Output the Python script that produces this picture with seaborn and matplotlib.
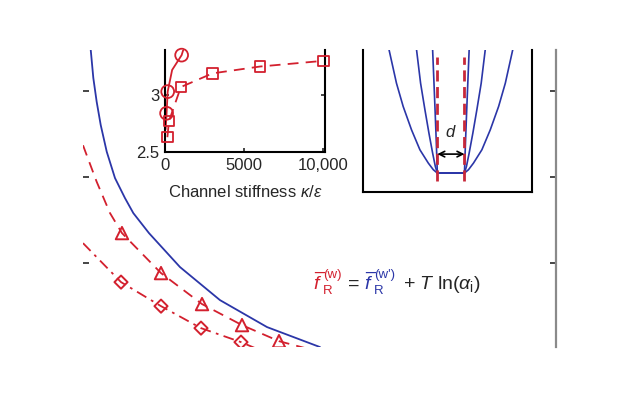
import pandas as pd
import matplotlib.pyplot as plt
import seaborn as sns

# main panel curves (x in arbitrary units, y in free-energy units)
blue_x = [0.090, 0.120, 0.159, 0.206, 0.276, 0.372, 0.488, 0.585, 0.767, 1.128,
          1.593, 2.140, 2.756]
blue_y = [3.48, 3.154, 2.877, 2.606, 2.295, 1.988, 1.755, 1.580, 1.347, 0.951,
          0.566, 0.252, 0.019]

tri_line_x = [0.0, 0.159, 0.314, 0.453, 0.907, 1.384, 1.849, 2.279, 2.674]
tri_line_y = [2.37, 1.945, 1.580, 1.347, 0.881, 0.520, 0.275, 0.088, -0.017]
tri_x = [0.453, 0.907, 1.384, 1.849, 2.279]
tri_y = [1.347, 0.881, 0.520, 0.275, 0.088]

dia_line_x = [0.0, 0.442, 0.907, 1.372, 1.837, 2.058]
dia_line_y = [1.23, 0.776, 0.496, 0.240, 0.077, -0.017]
dia_x = [0.442, 0.907, 1.372, 1.837]
dia_y = [0.776, 0.496, 0.240, 0.077]

main_yticks = [1, 2, 3]

# inset 1: channel stiffness
sq_x = [150, 250, 1000, 3000, 6000, 10000]
sq_y = [2.63, 2.77, 3.07, 3.19, 3.25, 3.30]
circ_x = [100, 170, 1050]
circ_y = [2.84, 3.03, 3.35]
circ_line_x = [40, 100, 170, 450, 1050, 1250]
circ_line_y = [2.70, 2.84, 3.03, 3.22, 3.35, 3.44]
stiff_ticks = [0, 5000, 10000]
stiff_labels = ['0', '5000', '10,000']
f_ticks = [2.5, 3]
f_labels = ['2.5', '3']

# inset 2: channel potentials (half profiles, mirrored)
outer_x = [0.5, 0.648, 0.833, 1.142, 1.451, 1.759, 2.006, 2.278]
outer_y = [0.0, 0.027, 0.081, 0.189, 0.351, 0.541, 0.730, 1.0]
middle_x = [0.5, 0.574, 0.673, 0.809, 0.957, 1.117, 1.265]
middle_y = [0.0, 0.054, 0.162, 0.324, 0.514, 0.730, 1.0]
inner_x = [0.5, 0.537, 0.574, 0.623, 0.673]
inner_y = [0.0, 0.243, 0.459, 0.730, 1.0]
edges_x = [-0.5, 0.5]
edge_y = [-0.068, 0.946]

red = '#d3202e'
blue = '#2b36a8'

sns.set_style('white')
plt.rcParams['font.family'] = ['Liberation Sans', 'DejaVu Sans']
plt.rcParams['mathtext.fontset'] = 'custom'
plt.rcParams['mathtext.rm'] = 'Liberation Sans'
plt.rcParams['mathtext.it'] = 'Liberation Sans:italic'
plt.rcParams['mathtext.fallback'] = 'cm'

fig = plt.figure(figsize=(6.4, 4), dpi=100)


def ptext(x, y, s, **kw):
    # place text by pixel position (y from the top), baseline aligned
    fig.text(x / 640, 1 - y / 400, s, va='baseline', **kw)


# ---- main panel
ax = fig.add_axes([83 / 640, 53 / 400, 473 / 640, 297 / 400])
sns.lineplot(x=blue_x, y=blue_y, ax=ax, color=blue, lw=1.3, sort=False, estimator=None)
sns.lineplot(x=tri_line_x, y=tri_line_y, ax=ax, color=red, lw=1.3, sort=False,
             estimator=None, linestyle=(0, (6, 4)))
sns.lineplot(x=dia_line_x, y=dia_line_y, ax=ax, color=red, lw=1.3, sort=False,
             estimator=None, linestyle=(0, (6, 3, 1.5, 3)))
sns.scatterplot(x=tri_x, y=tri_y, ax=ax, marker='^', s=80, facecolor='none',
                edgecolor=red, linewidth=1.4, zorder=3)
sns.scatterplot(x=dia_x, y=dia_y, ax=ax, marker='D', s=45, facecolor='none',
                edgecolor=red, linewidth=1.4, zorder=3)
ax.set_xlim(0, 5.5)
ax.set_ylim(0.02, 3.48)
ax.set_xticks([])
ax.set_yticks(main_yticks)
ax.tick_params(axis='y', direction='in', length=4, width=1.2, left=True, right=True,
               labelleft=False, labelright=False)
for s in ['left', 'top', 'bottom']:
    ax.spines[s].set_visible(False)
ax.spines['right'].set_color('#8a8a8a')
ax.spines['right'].set_linewidth(1.6)

# formula: f-bar_R^(w) = f-bar_R^(w') + T ln(alpha_i)
base = 289
for x0, col, sup in [(313, red, '(w)'), (364, blue, "(w')")]:
    ptext(x0, base, '$f$', color=col, fontsize=14)
    ptext(x0 + 6.5, base - 3, '\u00af', color=col, fontsize=13, ha='center')
    ptext(x0 + 10, base + 5, 'R', color=col, fontsize=9.5)
    ptext(x0 + 10.5, base - 11, sup, color=col, fontsize=9.5)
ptext(354, base, '=', fontsize=14, ha='center')
ptext(403, base, r'+ $T$ ln($\alpha_{\mathrm{i}}$)', fontsize=14)

# ---- inset 1
ax1 = fig.add_axes([165 / 640, 248 / 400, 160 / 640, 102 / 400])
sns.lineplot(x=sq_x, y=sq_y, ax=ax1, color=red, lw=1.3, sort=False, estimator=None,
             linestyle=(0, (6, 4)))
sns.lineplot(x=circ_line_x, y=circ_line_y, ax=ax1, color=red, lw=1.3, sort=False,
             estimator=None)
sns.scatterplot(x=sq_x, y=sq_y, ax=ax1, marker='s', s=55, facecolor='none',
                edgecolor=red, linewidth=1.3, zorder=3, clip_on=False)
sns.scatterplot(x=circ_x, y=circ_y, ax=ax1, marker='o', s=85, facecolor='none',
                edgecolor=red, linewidth=1.3, zorder=3, clip_on=False)
ax1.set_xlim(0, 10100)
ax1.set_ylim(2.5, 3.395)
ax1.set_xticks(stiff_ticks, stiff_labels)
ax1.set_yticks(f_ticks, f_labels)
ax1.tick_params(direction='in', length=3, width=1.2, labelsize=12, pad=4,
                left=True, right=True, bottom=True)
ax1.spines['top'].set_visible(False)
for s in ['left', 'right', 'bottom']:
    ax1.spines[s].set_color('black')
    ax1.spines[s].set_linewidth(1.5)
ax1.set_xlabel(r'Channel stiffness $\kappa/\epsilon$', fontsize=12, labelpad=8)
ax1.patch.set_alpha(0)

# ---- inset 2
ax2 = fig.add_axes([363 / 640, 208 / 400, 169 / 640, 142 / 400])
for hx, hy in [(outer_x, outer_y), (middle_x, middle_y), (inner_x, inner_y)]:
    px = [-v for v in hx[::-1]] + hx
    py = hy[::-1] + hy
    sns.lineplot(x=px, y=py, ax=ax2, color=blue, lw=1.2, sort=False, estimator=None)
for ex in edges_x:
    sns.lineplot(x=[ex, ex], y=edge_y, ax=ax2, color='#c8283a', lw=2.0, sort=False,
                 estimator=None, linestyle=(0, (4, 2)))
ax2.annotate('', xy=(0.5, 0.154), xytext=(-0.5, 0.154),
             arrowprops=dict(arrowstyle='<->', lw=1.2, color='black',
                             shrinkA=0, shrinkB=0))
ax2.text(0, 0.33, '$d$', fontsize=12, ha='center', va='center')
ax2.set_xlim(-3.24, 2.99)
ax2.set_ylim(-0.154, 1.0)
ax2.set_xticks([])
ax2.set_yticks([])
ax2.spines['top'].set_visible(False)
for s in ['left', 'right', 'bottom']:
    ax2.spines[s].set_color('black')
    ax2.spines[s].set_linewidth(1.5)

fig.savefig('out.png', dpi=100)
